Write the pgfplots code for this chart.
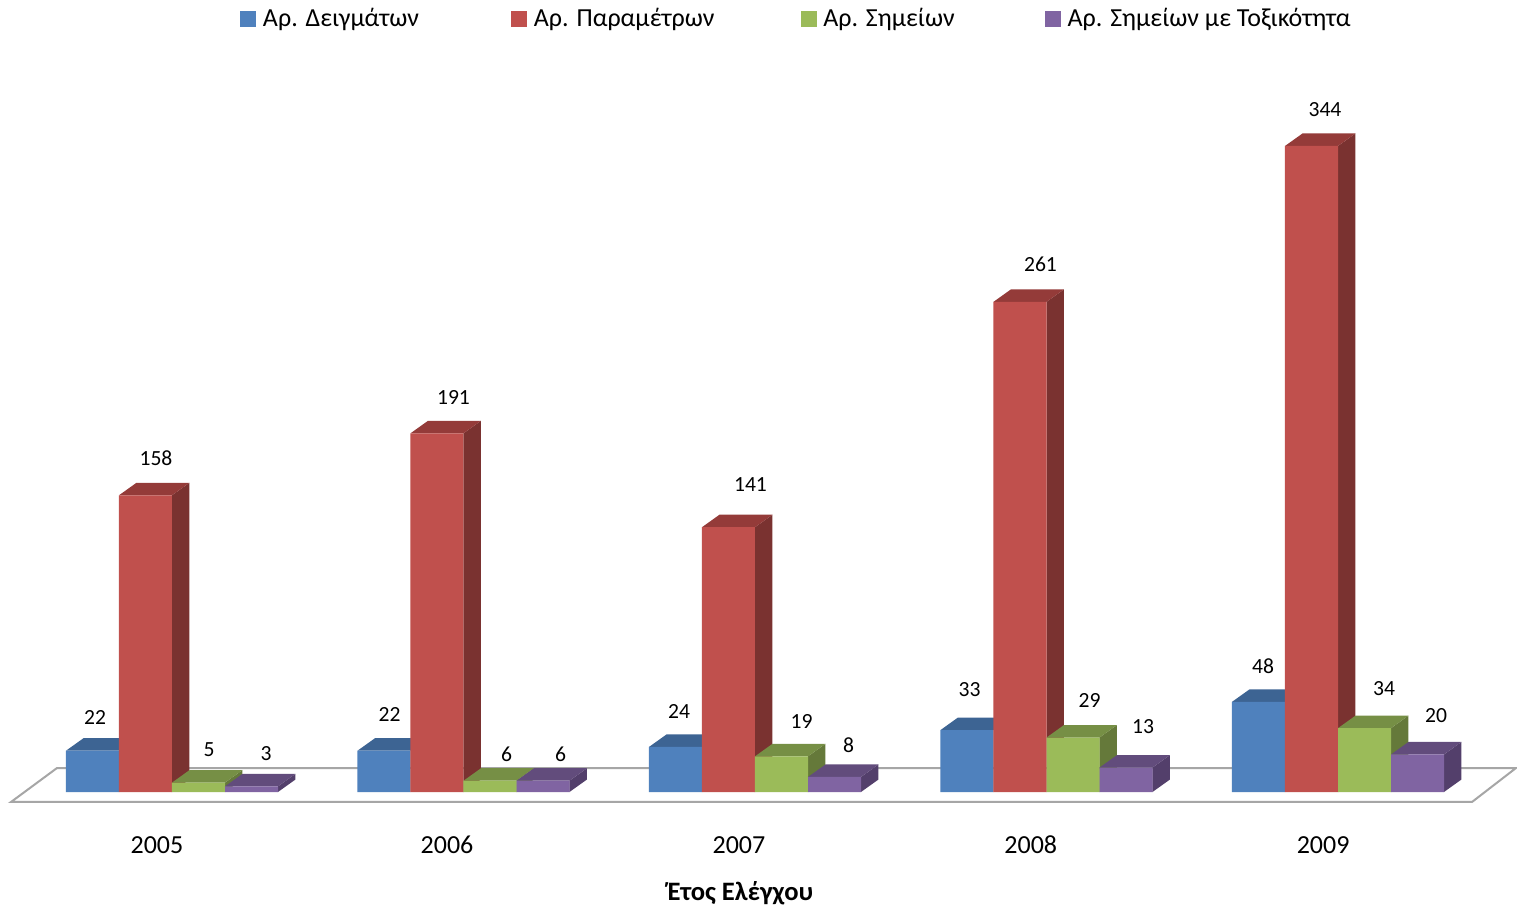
\documentclass[border=0pt]{standalone}
\usepackage{pgfplots}
\usepackage{pgfplotstable}
\usepackage{fontspec}
\setmainfont{Carlito}
\pgfplotsset{compat=1.18}
\definecolor{bluef}{HTML}{4F81BD}\definecolor{bluet}{HTML}{3D6493}\definecolor{blues}{HTML}{355680}
\definecolor{redf}{HTML}{C0504D}\definecolor{redt}{HTML}{943B39}\definecolor{reds}{HTML}{7A3230}
\definecolor{greenf}{HTML}{9BBB59}\definecolor{greent}{HTML}{768F45}\definecolor{greens}{HTML}{65793A}
\definecolor{purplef}{HTML}{8064A2}\definecolor{purplet}{HTML}{624C7C}\definecolor{purples}{HTML}{533F6B}
\definecolor{floorc}{HTML}{A6A6A6}
% x = group index, v = value, dx/dy = label offset (px) from the middle of the bar top
\pgfplotstableread{
x v dx dy
0 22 2.5 32.7
1 22 5.5 35.7
2 24 3.5 35
3 33 2.5 40
4 48 4.5 36
}\tblblue
\pgfplotstableread{
x v dx dy
0 158 10.5 37
1 191 16.5 36
2 141 22 43
3 261 20.5 38
4 344 13.5 36
}\tblred
\pgfplotstableread{
x v dx dy
0 5 10.5 32.6
1 6 16.5 26.7
2 19 20 35
3 29 16.5 37.5
4 34 19.5 40
}\tblgreen
\pgfplotstableread{
x v dx dy
0 3 14.5 33
1 6 17.5 26.7
2 8 14 32
3 13 17 40.6
4 20 18.5 39
}\tblpurple
% side and top faces of one bar: group, offset, value, side colour, top colour
\newcommand\depthbar[5]{%
  \pgfmathsetmacro\xa{#1+#2-0.0909}%
  \pgfmathsetmacro\xb{#1+#2+0.0909}%
  \pgfmathsetmacro\xc{\xb+0.06}%
  \pgfmathsetmacro\xd{\xa+0.06}%
  \pgfmathsetmacro\yt{#3+6.66}%
  \addplot[fill=#4,draw=none,forget plot] coordinates {(\xb,0) (\xc,6.66) (\xc,\yt) (\xb,#3)} --cycle;
  \addplot[fill=#5,draw=none,forget plot] coordinates {(\xa,#3) (\xb,#3) (\xc,\yt) (\xd,\yt)} --cycle;
}
\newcommand\front[3]{%
  \addplot[ybar,bar width=26.5pt,bar shift=#2pt,fill=#3,draw=none,forget plot,
    nodes near coords,
    visualization depends on={\thisrow{dx}\as\lblx},
    visualization depends on={\thisrow{dy}\as\lbly},
    nodes near coords style={anchor=center,font=\fontsize{10.8}{12}\selectfont,text=black,
      /pgf/number format/assume math mode=true,
      xshift={#2pt+\lblx*0.5pt},yshift={\lbly*0.5pt}}]
    table[x=x,y=v]{#1};
}
\newcommand\legsq[1]{\addlegendimage{legend image code/.code={\fill[#1] (0pt,-3.7pt) rectangle (7.5pt,3.8pt);}}}
\begin{document}
\begin{tikzpicture}
\begin{axis}[
  scale only axis,width=758.5pt,height=453pt,
  xmin=-0.59005,xmax=4.6141,ymin=-60.70,ymax=421.73,
  clip=false,
  /pgf/number format/assume math mode=true,
  axis line style={draw=none},tick style={draw=none},
  ytick=\empty,
  xtick={-0.0515,0.9434,1.945,2.946,3.949},
  xticklabels={2005,2006,2007,2008,2009},
  xticklabel style={anchor=center,yshift=30.5pt,font=\fontsize{13}{15}\selectfont},
  xlabel={Έτος Ελέγχου},
  xlabel style={at={(axis description cs:0.4881,0.0144)},anchor=center,font=\fontsize{13.3}{15}\selectfont\bfseries},
  legend columns=4,
  legend style={at={(axis description cs:0.5257,0.979)},anchor=center,draw=none,fill=none,
    font=\fontsize{13}{15}\selectfont,
    /tikz/every even column/.style={},
    /tikz/column 1/.style={column sep=1.5pt},
    /tikz/column 3/.style={column sep=1.5pt},
    /tikz/column 5/.style={column sep=1.5pt},
    /tikz/column 7/.style={column sep=1.5pt},
    /tikz/column 2/.style={column sep=44pt},
    /tikz/column 4/.style={column sep=41pt},
    /tikz/column 6/.style={column sep=43pt}},
]
\legsq{bluef}\addlegendentry{Αρ. Δειγμάτων}
\legsq{redf}\addlegendentry{Αρ. Παραμέτρων}
\legsq{greenf}\addlegendentry{Αρ. Σημείων}
\legsq{purplef}\addlegendentry{Αρ. Σημείων με Τοξικότητα}
% floor
\addplot[fill=white,draw=floorc,line width=1pt,forget plot] coordinates {(-0.5523,-5.32) (-0.3945,12.78) (4.6107,12.78) (4.4597,-5.32)} --cycle;
% blue
\depthbar{0}{-0.2727}{22}{blues}{bluet}\depthbar{1}{-0.2727}{22}{blues}{bluet}\depthbar{2}{-0.2727}{24}{blues}{bluet}\depthbar{3}{-0.2727}{33}{blues}{bluet}\depthbar{4}{-0.2727}{48}{blues}{bluet}
\front{\tblblue}{-39.75}{bluef}
% red
\depthbar{0}{-0.0909}{158}{reds}{redt}\depthbar{1}{-0.0909}{191}{reds}{redt}\depthbar{2}{-0.0909}{141}{reds}{redt}\depthbar{3}{-0.0909}{261}{reds}{redt}\depthbar{4}{-0.0909}{344}{reds}{redt}
\front{\tblred}{-13.25}{redf}
% green
\depthbar{0}{0.0909}{5}{greens}{greent}\depthbar{1}{0.0909}{6}{greens}{greent}\depthbar{2}{0.0909}{19}{greens}{greent}\depthbar{3}{0.0909}{29}{greens}{greent}\depthbar{4}{0.0909}{34}{greens}{greent}
\front{\tblgreen}{13.25}{greenf}
% purple
\depthbar{0}{0.2727}{3}{purples}{purplet}\depthbar{1}{0.2727}{6}{purples}{purplet}\depthbar{2}{0.2727}{8}{purples}{purplet}\depthbar{3}{0.2727}{13}{purples}{purplet}\depthbar{4}{0.2727}{20}{purples}{purplet}
\front{\tblpurple}{39.75}{purplef}
\end{axis}
\end{tikzpicture}
\end{document}
